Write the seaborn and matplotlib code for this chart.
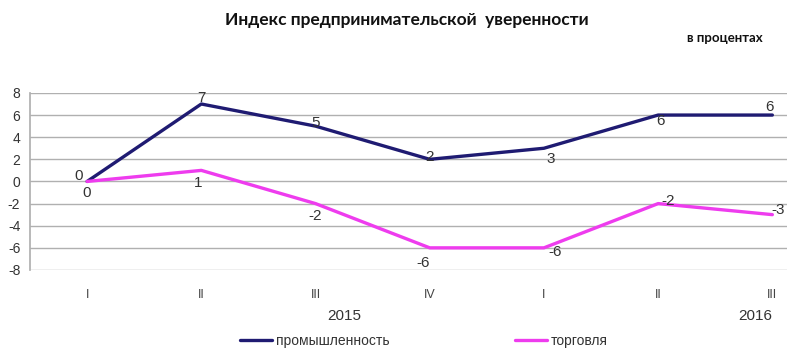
import numpy as np
import pandas as pd
import matplotlib
matplotlib.use('Agg')
import matplotlib.pyplot as plt
import seaborn as sns

#%% data
quarters = ['I', 'II', 'III', 'IV', 'I', 'II', 'III']
industry = [0, 7, 5, 2, 3, 6, 6]
trade = [0, 1, -2, -6, -6, -2, -3]
series_names = ['промышленность', 'торговля']
years = ['2015', '2016']

df = pd.DataFrame({
    'pos': list(range(len(quarters))) * 2,
    'value': industry + trade,
    'series': [series_names[0]] * len(industry) + [series_names[1]] * len(trade),
})

#%% style
sns.set_theme(style='white')
plt.rcParams['font.family'] = ['Liberation Sans', 'DejaVu Sans']
plt.rcParams['axes.unicode_minus'] = False
clrs = {series_names[0]: '#1f1b72', series_names[1]: '#ee3cee'}

fig = plt.figure(figsize=(8, 3.52), dpi=100)
ax = fig.add_axes([0.0375, 0.233, 0.9465, 0.503])
sns.lineplot(data=df, x='pos', y='value', hue='series', palette=clrs,
             linewidth=2.4, ax=ax, legend=False)

ax.set_xlim(-0.5, 6.13)
ax.set_ylim(-8, 8)
ax.set_yticks(np.arange(-8, 9, 2))
ax.yaxis.grid(True, color='#b0b0b0', linewidth=1)
ax.xaxis.grid(False)
for s in ['top', 'right', 'bottom']:
    ax.spines[s].set_visible(False)
ax.spines['left'].set_color('#b0b0b0')
ax.tick_params(axis='y', length=0, pad=7, labelsize=10, labelcolor='#333333')
ax.tick_params(axis='x', length=0, pad=14, labelsize=9, labelcolor='#444444')
ax.set_xticks(range(len(quarters)))
ax.set_xticklabels(quarters)
ax.set_xlabel('')
ax.set_ylabel('')

# data labels (offsets in points)
off_ind = [(-6, 4), (0, 4), (0, 2), (0, 2), (5, -8), (2, -4), (-2, 6)]
off_trd = [(0, -8), (-2, -9), (0, -9), (-5, -11), (8, -3), (7, 2), (4, 3)]
for i, v in enumerate(industry):
    ax.annotate(str(v), (i, v), xytext=off_ind[i], textcoords='offset points',
                ha='center', va='center', fontsize=11, color='#333333')
for i, v in enumerate(trade):
    ax.annotate(str(v), (i, v), xytext=off_trd[i], textcoords='offset points',
                ha='center', va='center', fontsize=11, color='#333333')

# year labels
fig.text(344 / 800, 1 - 316 / 352, years[0], ha='center', va='center', fontsize=11, color='#333333')
fig.text(755 / 800, 1 - 316 / 352, years[1], ha='center', va='center', fontsize=11, color='#333333')

# titles
fig.text(407 / 800, 1 - 20 / 352, 'Индекс предпринимательской  уверенности',
         ha='center', va='center', fontsize=12.5, fontweight='bold', family='Lato', color='#111111')
fig.text(725 / 800, 1 - 38 / 352, 'в процентах',
         ha='center', va='center', fontsize=9.5, fontweight='bold', family='Lato', color='#111111')

# legend
handles = [plt.Line2D([], [], color=clrs[n], linewidth=2.4) for n in series_names]
fig.legend(handles, series_names, loc='center', bbox_to_anchor=(0.53, 1 - 341 / 352),
           ncol=2, frameon=False, fontsize=10, handlelength=2.3, handletextpad=0.3,
           columnspacing=9, labelcolor='#333333')

fig.savefig('out.png', dpi=100)
